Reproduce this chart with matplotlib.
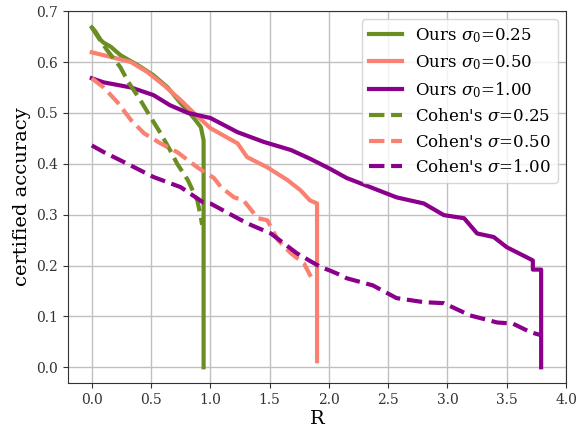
import matplotlib
matplotlib.use("Agg")
import matplotlib.pyplot as plt

plt.rcParams['font.family'] = ['DejaVu Serif']
plt.rcParams['mathtext.fontset'] = 'dejavuserif'

# Ours sigma0 = 0.25
ours025_r = [0.0, 0.03, 0.076, 0.10, 0.16, 0.244, 0.387, 0.52, 0.64, 0.75, 0.86, 0.92, 0.943, 0.943]
ours025_a = [0.668, 0.66, 0.643, 0.638, 0.63, 0.613, 0.594, 0.574, 0.55, 0.519, 0.49, 0.472, 0.446, 0.0]

# Ours sigma0 = 0.50
ours050_r = [0.0, 0.16, 0.33, 0.47, 0.61, 0.75, 0.86, 1.0, 1.23, 1.31, 1.48, 1.65, 1.76, 1.84, 1.90, 1.90]
ours050_a = [0.619, 0.61, 0.60, 0.58, 0.554, 0.525, 0.50, 0.47, 0.44, 0.413, 0.393, 0.368, 0.348, 0.328, 0.322, 0.012]

# Ours sigma0 = 1.00
ours100_r = [0.0, 0.10, 0.33, 0.52, 0.66, 0.81, 1.0, 1.23, 1.45, 1.68, 1.84, 2.01, 2.15, 2.35, 2.57, 2.80,
             2.97, 3.14, 3.25, 3.39, 3.50, 3.67, 3.72, 3.72, 3.79, 3.79]
ours100_a = [0.568, 0.56, 0.55, 0.535, 0.515, 0.50, 0.49, 0.462, 0.443, 0.427, 0.41, 0.39, 0.372, 0.354, 0.334, 0.322,
             0.299, 0.293, 0.263, 0.256, 0.236, 0.216, 0.21, 0.192, 0.192, 0.0]

# Cohen sigma = 0.25
cohen025_r = [0.0, 0.05, 0.13, 0.24, 0.31, 0.41, 0.50, 0.58, 0.66, 0.72, 0.81, 0.89, 0.92, 0.93]
cohen025_a = [0.668, 0.65, 0.623, 0.59, 0.56, 0.525, 0.49, 0.46, 0.427, 0.40, 0.368, 0.328, 0.295, 0.28]

# Cohen sigma = 0.50
cohen050_r = [0.0, 0.10, 0.22, 0.33, 0.44, 0.58, 0.72, 0.89, 1.03, 1.09, 1.20, 1.28, 1.40, 1.48, 1.57, 1.68, 1.79, 1.85]
cohen050_a = [0.568, 0.55, 0.52, 0.486, 0.46, 0.44, 0.423, 0.393, 0.372, 0.354, 0.334, 0.328, 0.293, 0.289, 0.25, 0.224, 0.204, 0.177]

# Cohen sigma = 1.00
cohen100_r = [0.0, 0.10, 0.30, 0.52, 0.75, 0.94, 1.0, 1.15, 1.31, 1.51, 1.73, 1.93, 2.01, 2.10, 2.15, 2.37, 2.57,
              2.80, 2.97, 3.19, 3.42, 3.55, 3.70, 3.79]
cohen100_a = [0.436, 0.423, 0.40, 0.374, 0.354, 0.324, 0.322, 0.303, 0.283, 0.263, 0.224, 0.197, 0.19, 0.181, 0.175, 0.161, 0.136,
              0.128, 0.126, 0.102, 0.088, 0.086, 0.069, 0.063]

green = '#6b8e23'
salmon = '#fa8072'
purple = '#8b008b'

fig = plt.figure(figsize=(5.77, 4.28), dpi=100)
ax = fig.add_axes([0.118, 0.105, 0.863, 0.869])

lw = 3
ax.plot(ours025_r, ours025_a, color=green, lw=lw, label=r'Ours $\sigma_0$=0.25')
ax.plot(ours050_r, ours050_a, color=salmon, lw=lw, label=r'Ours $\sigma_0$=0.50')
ax.plot(ours100_r, ours100_a, color=purple, lw=lw, label=r'Ours $\sigma_0$=1.00')
ax.plot(cohen025_r, cohen025_a, color=green, lw=lw, ls='--', label=r"Cohen's $\sigma$=0.25")
ax.plot(cohen050_r, cohen050_a, color=salmon, lw=lw, ls='--', label=r"Cohen's $\sigma$=0.50")
ax.plot(cohen100_r, cohen100_a, color=purple, lw=lw, ls='--', label=r"Cohen's $\sigma$=1.00")

ax.set_xlim(-0.2, 4.0)
ax.set_ylim(-0.031, 0.7)
ax.set_xticks([0.0, 0.5, 1.0, 1.5, 2.0, 2.5, 3.0, 3.5, 4.0])
ax.set_yticks([0.0, 0.1, 0.2, 0.3, 0.4, 0.5, 0.6, 0.7])
ax.grid(True, color='#c0c0c0', lw=1.0)
ax.set_axisbelow(True)
ax.tick_params(labelsize=10, colors='#333333')
for s in ax.spines.values():
    s.set_color('#333333')
ax.set_xlabel('R', fontsize=14, labelpad=2)
ax.set_ylabel('certified accuracy', fontsize=14)
ax.legend(loc='upper right', fontsize=12, framealpha=0.8)

fig.savefig('out.png', dpi=100)
